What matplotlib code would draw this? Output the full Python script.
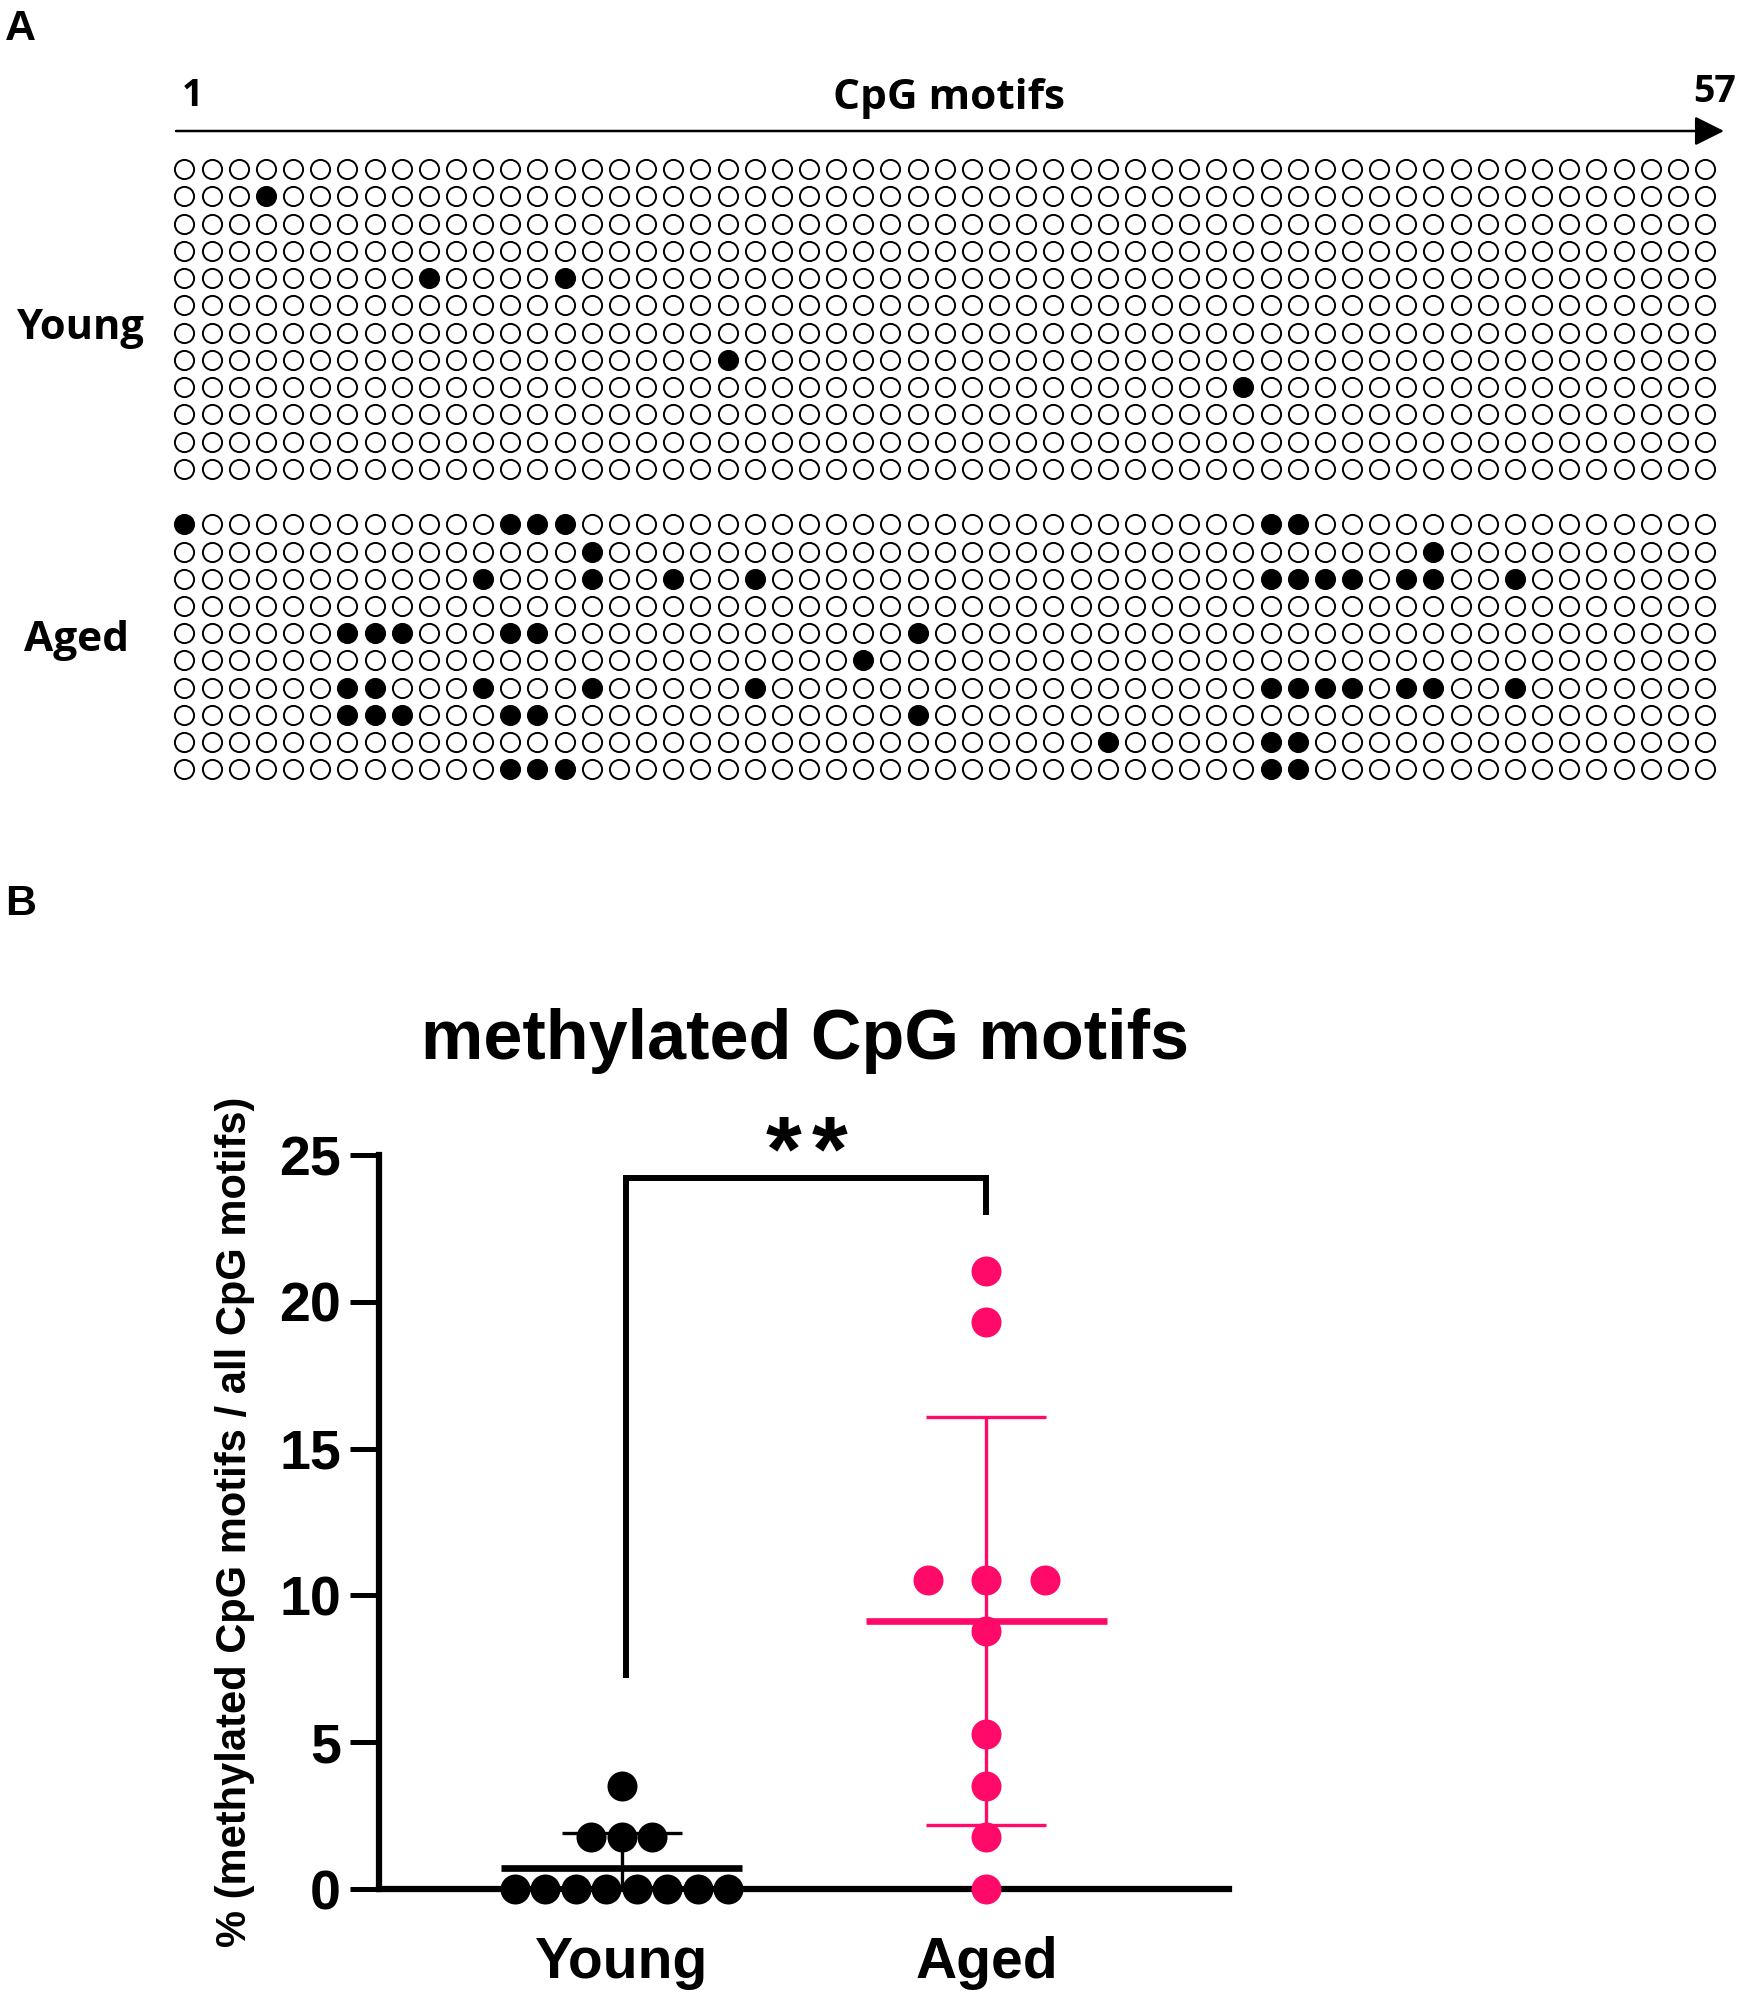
import numpy as np
import matplotlib
matplotlib.use("Agg")
import matplotlib.pyplot as plt
from matplotlib.patches import FancyArrowPatch

# ---------------- data ----------------
n_motifs = 57
# positions (1-based) of methylated CpG motifs for each sequenced clone
young_methylated = [[], [4], [], [], [10, 15], [], [], [21], [40], [], [], []]
aged_methylated = [
    [1, 13, 14, 15, 41, 42],
    [16, 47],
    [12, 16, 19, 22, 41, 42, 43, 44, 46, 47, 50],
    [],
    [7, 8, 9, 13, 14, 28],
    [26],
    [7, 8, 12, 16, 22, 41, 42, 43, 44, 46, 47, 50],
    [7, 8, 9, 13, 14, 28],
    [35, 41, 42],
    [13, 14, 15, 41, 42],
]
groups = ["Young", "Aged"]
yticks = [0, 5, 10, 15, 20, 25]

# ---------------- style / layout ----------------
W, H, DPI = 1738, 1994, 100
PINK = "#FF0A68"
GROUP_COLORS = ["black", PINK]
SWARM_STEP = [0.0835, 0.161]

plt.rcParams["font.family"] = ["Liberation Sans", "DejaVu Sans"]
fig = plt.figure(figsize=(W / DPI, H / DPI), dpi=DPI)
fig.patch.set_facecolor("white")


def fx(px):
    return px / W


def fy(py):
    return 1 - py / H


CAL = ["Open Sans", "DejaVu Sans"]

# ---------------- Panel A ----------------
fig.text(fx(5), fy(40), "A", fontsize=31, fontweight="bold", ha="left", va="baseline")
fig.text(fx(192), fy(106), "1", fontsize=27, fontweight="bold", family=CAL, ha="center", va="baseline")
fig.text(fx(1715), fy(102), "57", fontsize=27, fontweight="bold", family=CAL, ha="center", va="baseline")
fig.text(fx(949), fy(109), "CpG motifs", fontsize=30.5, fontweight="bold", family=CAL, ha="center", va="baseline")
fig.text(fx(81), fy(339), "Young", fontsize=30, fontweight="bold", family=CAL, ha="center", va="baseline")
fig.text(fx(77), fy(651), "Aged", fontsize=30.5, fontweight="bold", family=CAL, ha="center", va="baseline")

arrow = FancyArrowPatch((fx(176), fy(131)), (fx(1724), fy(131)), transform=fig.transFigure,
                        arrowstyle="-|>,head_length=18,head_width=9", mutation_scale=1,
                        lw=1.8, color="black", shrinkA=0, shrinkB=0)
fig.patches.append(arrow)

axg = fig.add_axes([fx(170.9), fy(783.3), (1718.6 - 170.9) / W, (783.3 - 155.6) / H])
axg.set_xlim(0.5, n_motifs + 0.5)
axg.set_ylim(22.55, -0.5)
axg.axis("off")

aged_offset = 13.04
cols = np.arange(1, n_motifs + 1)
for block, offset in ((young_methylated, 0.0), (aged_methylated, aged_offset)):
    for r, meth in enumerate(block):
        y = np.full(n_motifs, r + offset)
        filled = np.isin(cols, meth)
        axg.plot(cols[~filled], y[~filled], "o", ms=13.8, mfc="white", mec="black", mew=1.4, ls="none")
        if filled.any():
            axg.plot(cols[filled], y[filled], "o", ms=13.8, mfc="black", mec="black", mew=1.4, ls="none")

# ---------------- Panel B ----------------
fig.text(fx(5), fy(915), "B", fontsize=31, fontweight="bold", ha="left", va="baseline")
fig.text(fx(805), fy(1059), "methylated CpG motifs", fontsize=50.5, fontweight="bold",
         ha="center", va="baseline")
fig.text(fx(235), fy(1522), "% (methylated CpG motifs / all CpG motifs)", fontsize=30,
         fontweight="bold", rotation=90, ha="center", va="center")

ax = fig.add_axes([fx(379), fy(1889), (1229 - 379) / W, (1889 - 1155) / H])
ax.set_xlim(-0.665, 1.665)
ax.set_ylim(0, 25)

pct = [np.array([100.0 * len(m) / n_motifs for m in young_methylated]),
       np.array([100.0 * len(m) / n_motifs for m in aged_methylated])]


def swarm_offsets(vals, step):
    vals = np.round(vals, 6)
    off = np.zeros(len(vals))
    for v in np.unique(vals):
        idx = np.where(vals == v)[0]
        n = len(idx)
        off[idx] = (np.arange(n) - (n - 1) / 2) * step
    return off


for i, (vals, col) in enumerate(zip(pct, GROUP_COLORS)):
    mean = vals.mean()
    sd = vals.std(ddof=1)
    ax.errorbar([i], [mean], yerr=[sd], fmt="none", ecolor=col, elinewidth=2.4,
                capsize=43, capthick=2.4, zorder=2)
    ax.hlines(mean, i - 0.331, i + 0.331, color=col, lw=4.8, zorder=2)
    ax.scatter(i + swarm_offsets(vals, SWARM_STEP[i]), vals, s=21.6 ** 2, color=col,
               linewidths=0, zorder=3, clip_on=False)

# significance bracket
ax.plot([0.013, 0.013, 1.0, 1.0], [7.17, 24.2, 24.2, 22.96], color="black", lw=4.3,
        clip_on=False, solid_joinstyle="miter", solid_capstyle="butt")
fig.text(fx(783.5), fy(1156), "*", fontsize=66, fontweight="bold", ha="center", va="center")
fig.text(fx(830), fy(1156), "*", fontsize=66, fontweight="bold", ha="center", va="center")

for s in ("top", "right"):
    ax.spines[s].set_visible(False)
for s in ("left", "bottom"):
    ax.spines[s].set_linewidth(4.5)
ax.set_yticks(yticks)
ax.set_yticklabels([str(t) for t in yticks], fontsize=40, fontweight="bold")
ax.set_xticks([0, 1])
ax.set_xticklabels(groups, fontsize=41, fontweight="bold")
ax.tick_params(axis="y", length=21, width=3.6, pad=6.5)
ax.tick_params(axis="x", length=0, pad=34)
ax.patch.set_alpha(0)

fig.savefig("out.png", dpi=DPI, facecolor="white")
